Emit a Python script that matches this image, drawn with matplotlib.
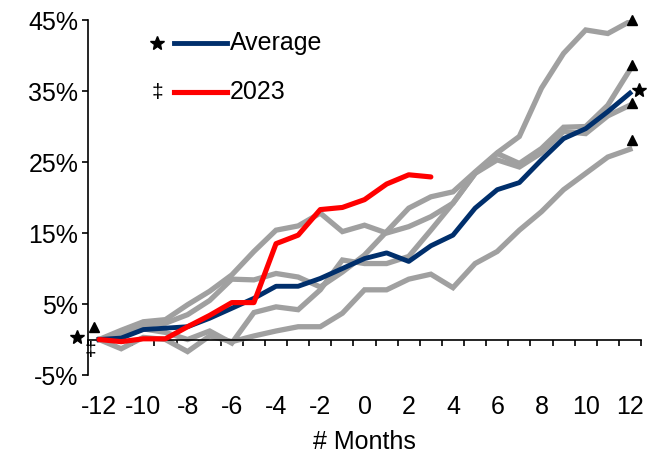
#! /usr/bin/env python3
"""Cumulative move around month 0: past episodes, their average and 2023."""

import matplotlib
matplotlib.use("Agg")
import matplotlib.pyplot as plt
from matplotlib.ticker import FixedLocator, FuncFormatter

months = list(range(-12, 13))

past_1 = [0.0, 0.8, 2.0, 2.3, 3.5, 5.5, 8.5, 8.4, 9.3, 8.8, 7.4, 9.5, 11.9,
          15.2, 18.5, 20.1, 20.8, 23.6, 26.3, 28.6, 35.4, 40.3, 43.6, 43.1, 44.8]
past_2 = [0.0, 1.3, 2.5, 2.8, 4.9, 6.8, 9.1, 12.4, 15.4, 16.0, 17.8, 15.2, 16.1,
          15.0, 15.9, 17.3, 19.2, 23.4, 26.2, 24.8, 26.9, 29.9, 30.0, 33.0, 38.0]
past_3 = [0.0, 0.5, 1.5, 1.0, 0.0, 1.2, -0.5, 3.8, 4.6, 4.2, 7.0, 11.2, 10.7,
          10.7, 11.7, 15.4, 19.2, 23.4, 25.3, 24.3, 26.3, 29.3, 29.0, 31.5, 33.0]
past_4 = [0.0, -1.3, 0.3, 0.0, -1.7, 0.5, -0.3, 0.5, 1.2, 1.8, 1.8, 3.7, 7.0,
          7.0, 8.5, 9.2, 7.3, 10.7, 12.4, 15.4, 18.0, 21.1, 23.4, 25.7, 26.8]
average = [0.0, 0.2, 1.4, 1.6, 1.8, 3.0, 4.4, 5.8, 7.5, 7.5, 8.6, 10.0, 11.4,
           12.2, 11.0, 13.2, 14.7, 18.5, 21.1, 22.1, 25.3, 28.3, 29.7, 32.1, 34.7]
months_2023 = list(range(-12, 4))
y2023 = [0.0, -0.3, 0.1, 0.1, 1.8, 3.4, 5.2, 5.2, 13.5, 14.7, 18.3, 18.6, 19.7,
         21.9, 23.2, 22.9]

# markers placed beside the start and end of the lines
triangle_x = [-12.25, 12.1, 12.1, 12.1, 12.1]
triangle_y = [1.8, 45.0, 38.7, 33.3, 28.1]
star_x = [-13.0, 12.4]
star_y = [0.4, 35.1]
dagger_x = [-12.4]
dagger_y = [-1.6]

GREY = "#a0a0a0"
NAVY = "#002f6c"
RED = "#ff0000"
FONT = ["Liberation Sans", "DejaVu Sans"]


def main():
    plt.rcParams["font.family"] = FONT
    plt.rcParams["axes.unicode_minus"] = False
    fig = plt.figure(figsize=(6.55, 4.57), dpi=100)
    ax = fig.add_axes([0.1344, 0.1794, 0.8442, 0.7768])

    for series in (past_1, past_2, past_3, past_4):
        ax.plot(months, series, color=GREY, lw=3.8, solid_joinstyle="miter",
                zorder=2)
    ax.plot(months, average, color=NAVY, lw=3.5, zorder=3)
    ax.plot(months_2023, y2023, color=RED, lw=3.7, zorder=4,
            solid_capstyle="round")

    ax.plot(triangle_x, triangle_y, ls="None", marker="^", ms=7.5,
            color="black", clip_on=False, zorder=5)
    ax.plot(star_x, star_y, ls="None", marker="*", ms=10.5, color="black",
            clip_on=False, zorder=5)
    for x, y in zip(dagger_x, dagger_y):
        ax.text(x, y, "\u2021", fontsize=15, ha="center", va="center",
                clip_on=False)

    ax.set_xlim(-12.5, 12.5)
    ax.set_ylim(-5, 45)

    for side in ("top", "right"):
        ax.spines[side].set_visible(False)
    ax.spines["bottom"].set_position(("data", 0))
    ax.spines["left"].set_linewidth(1.2)
    ax.spines["bottom"].set_linewidth(1.2)

    ax.xaxis.set_major_locator(FixedLocator(range(-12, 13, 2)))
    ax.xaxis.set_minor_locator(FixedLocator([m + 0.5 for m in range(-13, 13)]))
    ax.tick_params(axis="x", which="major", length=0, pad=40, labelsize=18)
    ax.tick_params(axis="x", which="minor", length=4, width=1.2,
                   direction="out")
    ax.yaxis.set_major_locator(FixedLocator(range(-5, 46, 10)))
    ax.yaxis.set_major_formatter(FuncFormatter(lambda v, p: f"{v:.0f}%"))
    ax.tick_params(axis="y", length=4, width=1.2, labelsize=18, pad=3)
    ax.set_xlabel("# Months", fontsize=18, labelpad=8)

    # hand-made legend
    ax.plot([0.1248], [0.935], transform=ax.transAxes, ls="None", marker="*",
            ms=10.5, color="black")
    ax.plot([0.1555, 0.2514], [0.935, 0.935], transform=ax.transAxes,
            color=NAVY, lw=3.5)
    ax.text(0.2568, 0.935, "Average", transform=ax.transAxes, fontsize=18,
            va="center")
    ax.text(0.1248, 0.797, "\u2021", transform=ax.transAxes, fontsize=15,
            ha="center", va="center")
    ax.plot([0.1555, 0.2514], [0.797, 0.797], transform=ax.transAxes,
            color=RED, lw=3.7)
    ax.text(0.2568, 0.797, "2023", transform=ax.transAxes, fontsize=18,
            va="center")

    fig.savefig("out.png", dpi=100)


if __name__ == "__main__":
    main()
